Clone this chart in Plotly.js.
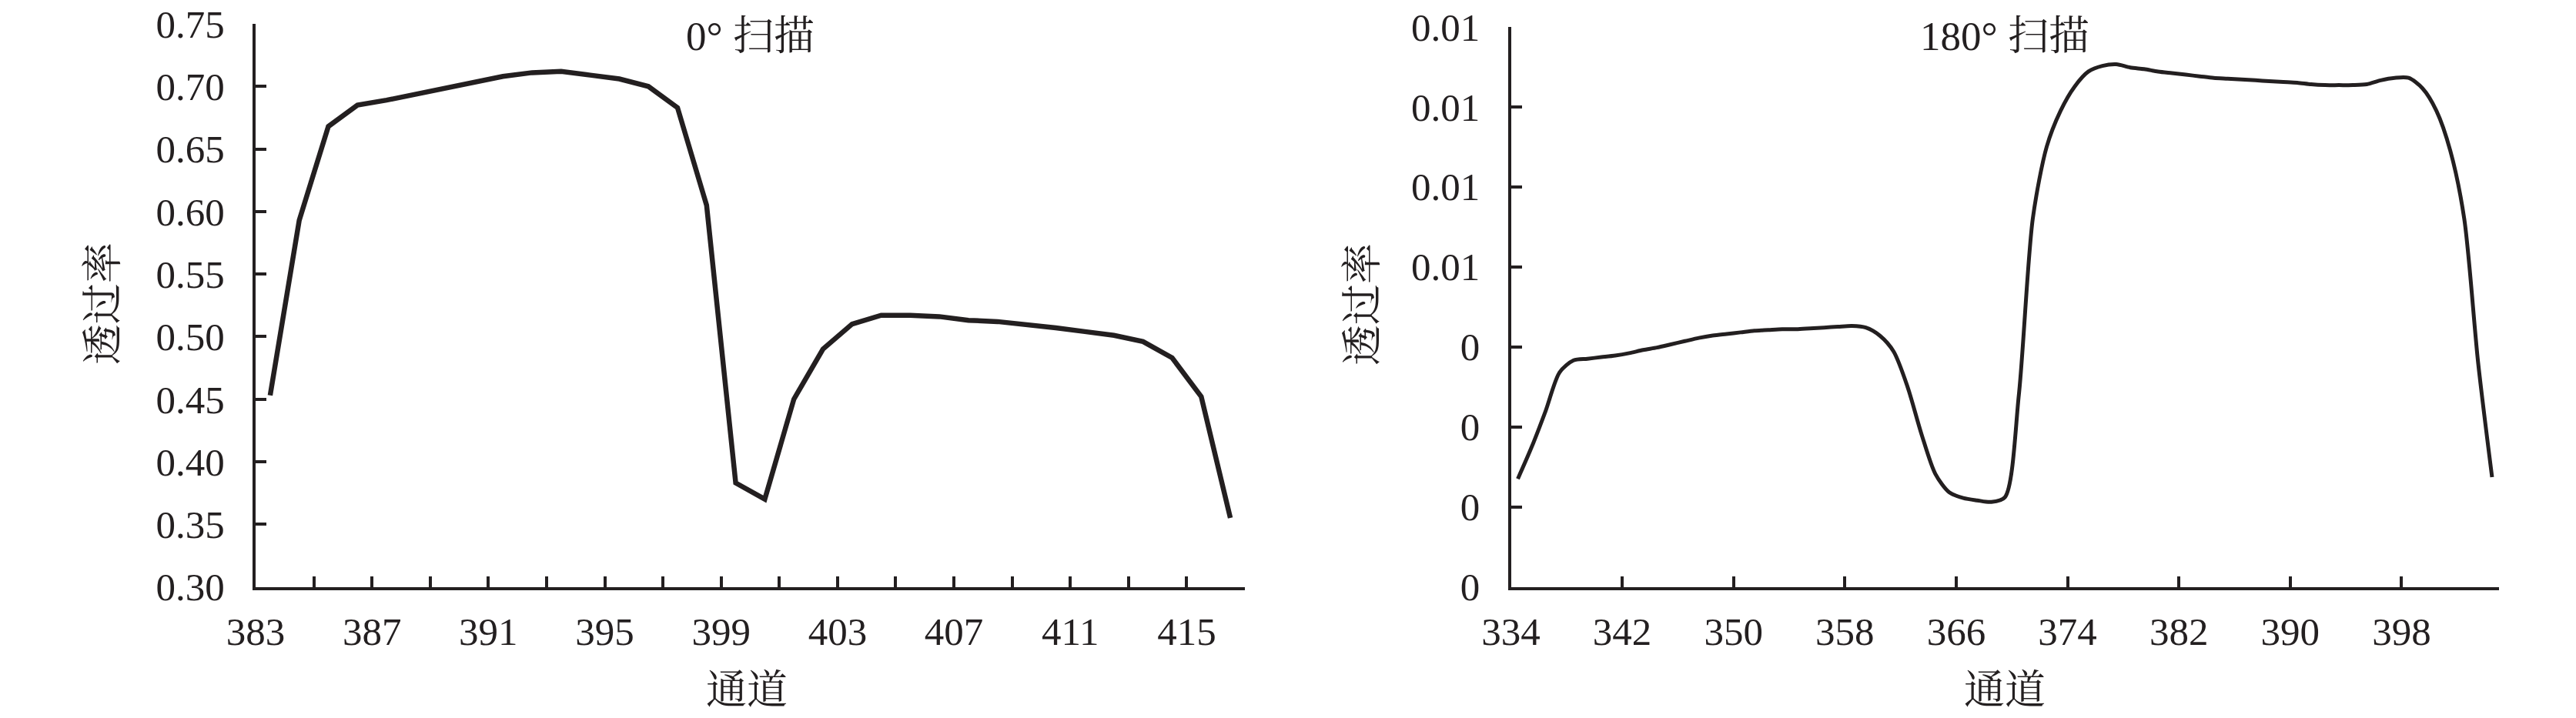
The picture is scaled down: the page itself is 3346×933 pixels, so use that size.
<!DOCTYPE html>
<html>
<head>
<meta charset="utf-8">
<script src="https://cdn.plot.ly/plotly-3.0.1.min.js"></script>
<style>html,body{margin:0;padding:0;background:#fff;}#chart{width:3346px;height:933px;}</style>
</head>
<body>
<div id="chart"></div>
<script>
// ---- data ----
const channels0 = [383,384,385,386,387,388,389,390,391,392,393,394,395,396,397,398,399,400,401,402,403,404,405,406,407,408,409,410,411,412,413,414,415,416];
const trans0 = [0.453,0.593,0.668,0.685,0.689,0.694,0.699,0.704,0.708,0.711,0.712,0.709,0.706,0.700,0.683,0.605,0.383,0.370,0.450,0.490,0.510,0.517,0.517,0.516,0.513,0.512,0.510,0.507,0.504,0.501,0.496,0.483,0.452,0.355];
const xLabels0 = [383,387,391,395,399,403,407,411,415];
const yTicks0 = [0.30,0.35,0.40,0.45,0.50,0.55,0.60,0.65,0.70,0.75];
const yLabels0 = ['0.30','0.35','0.40','0.45','0.50','0.55','0.60','0.65','0.70','0.75'];

const channels180 = [];
for (let c = 334; c <= 404; c++) channels180.push(c);
const trans180 = [0.00135,0.00175,0.0022,0.00268,0.00283,0.00285,0.00287,0.00289,0.00292,0.00296,
  0.00299,0.00303,0.00307,0.00311,0.00314,0.00316,0.00318,0.0032,0.00321,0.00322,
  0.00322,0.00323,0.00324,0.00325,0.00326,0.00324,0.00314,0.00294,0.0025,0.00191,
  0.00141,0.00118,0.00111,0.00108,0.00106,0.00112,0.0024,0.0046,0.0055,0.00595,
  0.00625,0.00644,0.00651,0.00653,0.00649,0.00647,0.00644,0.00642,0.0064,0.00638,
  0.00636,0.00635,0.00634,0.00633,0.00632,0.00631,0.0063,0.00628,0.00627,0.00627,
  0.00627,0.00628,0.00633,0.00636,0.00636,0.00623,0.00595,0.00545,0.0046,0.0028,0.00137];
const xLabels180 = [334,342,350,358,366,374,382,390,398];
const yTicks180 = [0,0.001,0.002,0.003,0.004,0.005,0.006,0.007];
const yLabels180 = ['0','0','0','0','0.01','0.01','0.01','0.01'];

const titles = ['0° 扫描','180° 扫描'];
const xTitle = '通道';
const yTitle = '透过率';

// ---- style ----
const ink = '#231f20';
const fam = '"Liberation Serif", "Times New Roman", "Noto Serif CJK SC", "Noto Sans CJK SC", serif';
const tickFont = {family: fam, size: 51, color: ink};
const titleFont = {family: fam, size: 53, color: ink};

// between-category ticks (Excel style): ticks sit half a channel before each labelled channel
const half = 0.5;
const xTickVals0 = [], xTickText0 = [];
for (let v = channels0[0]; v <= channels0[channels0.length-1] + 1; v += 2) {
  xTickVals0.push(v - half);
  xTickText0.push(xLabels0.includes(v) ? String(v) : '');
}
const xTickVals180 = xLabels180.map(v => v - half);
const xTickText180 = xLabels180.map(String);

const traces = [
  {x: channels0, y: trans0, type: 'scatter', mode: 'lines', xaxis: 'x', yaxis: 'y',
   line: {color: ink, width: 6.5, shape: 'linear'}, hoverinfo: 'skip'},
  {x: channels180, y: trans180, type: 'scatter', mode: 'lines', xaxis: 'x2', yaxis: 'y2',
   line: {color: ink, width: 5, shape: 'spline', smoothing: 0.8}, hoverinfo: 'skip'}
];

const axisCommon = {
  showline: true, linecolor: ink, linewidth: 4, mirror: false,
  showgrid: false, zeroline: false, ticks: 'inside', ticklen: 14, tickwidth: 4, tickcolor: ink,
  tickfont: tickFont, fixedrange: true
};

const layout = {
  width: 3346, height: 933,
  margin: {l: 0, r: 0, t: 0, b: 0},
  paper_bgcolor: '#fff', plot_bgcolor: '#fff',
  showlegend: false,
  xaxis: Object.assign({}, axisCommon, {
    domain: [332/3346, 1617/3346], anchor: 'y',
    range: [channels0[0] - half, channels0[channels0.length-1] + half],
    tickmode: 'array', tickvals: xTickVals0, ticktext: xTickText0, ticklabelstandoff: 10
  }),
  yaxis: Object.assign({}, axisCommon, {
    domain: [1 - 762.5/933, 1 - 31/933], anchor: 'x',
    range: [0.30, 0.75],
    tickmode: 'array', tickvals: yTicks0, ticktext: yLabels0, ticklabelstandoff: 26
  }),
  xaxis2: Object.assign({}, axisCommon, {
    domain: [1962.5/3346, 3246/3346], anchor: 'y2',
    range: [channels180[0] - half, channels180[channels180.length-1] + half],
    tickmode: 'array', tickvals: xTickVals180, ticktext: xTickText180, ticklabelstandoff: 10
  }),
  yaxis2: Object.assign({}, axisCommon, {
    domain: [1 - 762.5/933, 1 - 34.7/933], anchor: 'x2',
    range: [0, 0.007],
    tickmode: 'array', tickvals: yTicks180, ticktext: yLabels180, ticklabelstandoff: 26
  }),
  annotations: [
    {text: titles[0], xref: 'paper', yref: 'paper', x: 974/3346, y: 1 - 47/933, xanchor: 'center', yanchor: 'middle', showarrow: false, font: titleFont},
    {text: titles[1], xref: 'paper', yref: 'paper', x: 2604/3346, y: 1 - 47/933, xanchor: 'center', yanchor: 'middle', showarrow: false, font: titleFont},
    {text: xTitle, xref: 'paper', yref: 'paper', x: 970/3346, y: 1 - 897/933, xanchor: 'center', yanchor: 'middle', showarrow: false, font: titleFont},
    {text: xTitle, xref: 'paper', yref: 'paper', x: 2604/3346, y: 1 - 897/933, xanchor: 'center', yanchor: 'middle', showarrow: false, font: titleFont},
    {text: yTitle, xref: 'paper', yref: 'paper', x: 134/3346, y: 1 - 395/933, xanchor: 'center', yanchor: 'middle', textangle: -90, showarrow: false, font: titleFont},
    {text: yTitle, xref: 'paper', yref: 'paper', x: 1770/3346, y: 1 - 395/933, xanchor: 'center', yanchor: 'middle', textangle: -90, showarrow: false, font: titleFont}
  ]
};

Plotly.newPlot('chart', traces, layout, {staticPlot: true, displayModeBar: false});
</script>
</body>
</html>
